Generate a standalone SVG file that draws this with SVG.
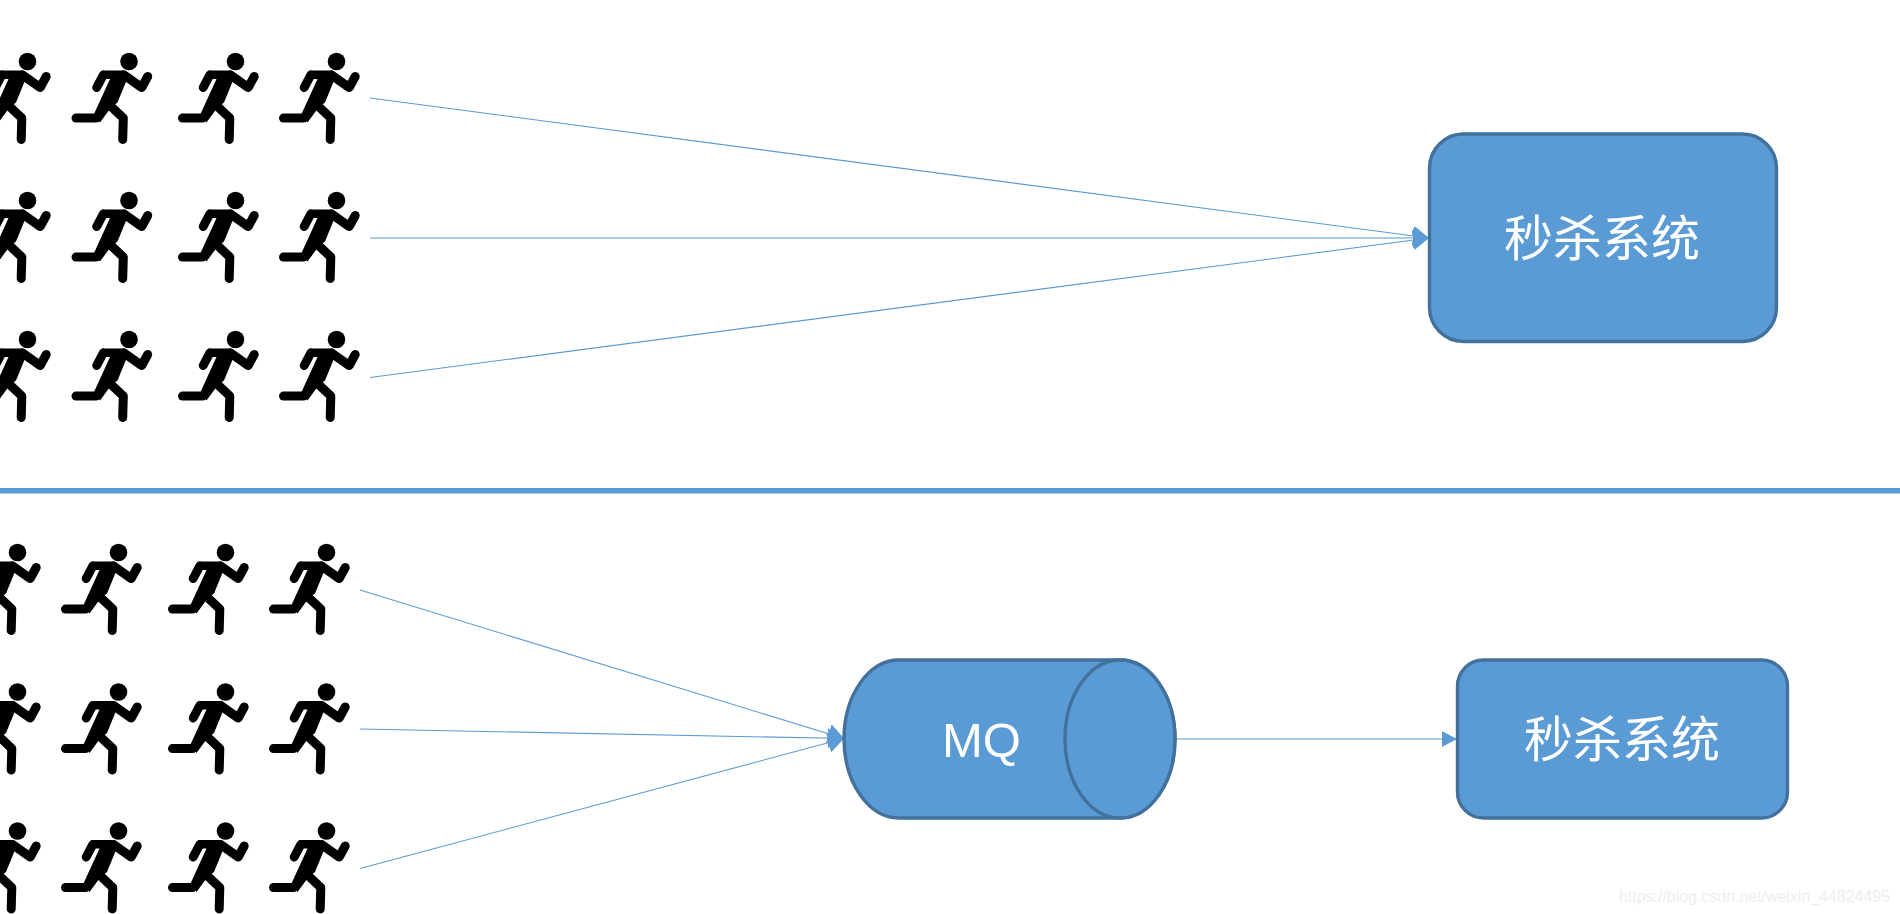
<svg xmlns="http://www.w3.org/2000/svg" xmlns:xlink="http://www.w3.org/1999/xlink" width="1900" height="914" viewBox="0 0 1900 914">
<style>
.box{fill:#5b9bd5;stroke:#41719c;stroke-width:3.4}
.lbl{fill:#fff;font-family:"Noto Sans CJK SC","Liberation Sans",sans-serif;font-size:49px;text-anchor:middle}
.mq{fill:#fff;font-family:"Liberation Sans",sans-serif;font-size:49px;text-anchor:middle}
.c{stroke:#5b9bd5;stroke-width:1.1;fill:none}
.wm{fill:#eeeeee;font-family:"Liberation Sans",sans-serif;font-size:16px}
.s{fill:none;stroke:#000;stroke-linecap:round;stroke-linejoin:round}
</style>
<defs>
<marker id="a" markerUnits="userSpaceOnUse" markerWidth="16" markerHeight="20" refX="16" refY="10" orient="auto"><path d="M0 0L16 10L0 20Z" fill="#5b9bd5"/></marker>
<marker id="b" markerUnits="userSpaceOnUse" markerWidth="15" markerHeight="16" refX="15" refY="8" orient="auto"><path d="M0 0L15 8L0 16Z" fill="#5b9bd5"/></marker>
<g id="r">
<circle cx="0" cy="0" r="8.8"/>
<path class="s" stroke-width="9" d="M-5 13.500L12.700 26L18.700 15"/>
<path class="s" stroke-width="9" d="M-25.700 13.500L-32.300 26"/>
<path d="M-27.300 9H-4L0 13L-11.500 41L-18 46L-29 61L-35 52.500L-19 17.600H-24Z" fill="#000"/>
<path class="s" stroke-width="9" d="M-53 56.600H-33"/>
<path class="s" stroke-width="9" d="M-19 44L-5.700 56.600L-6.300 78"/>
</g>
</defs>
<g id="connectors">
<path class="c" marker-end="url(#a)" d="M370 98L1429 238"/>
<path class="c" marker-end="url(#a)" d="M370 238H1429"/>
<path class="c" marker-end="url(#a)" d="M370 377.500L1429 238"/>
<path class="c" marker-end="url(#a)" d="M360 590L844 738.500"/>
<path class="c" marker-end="url(#a)" d="M360 729L844 738.500"/>
<path class="c" marker-end="url(#a)" d="M360 868.500L844 738.500"/>
<path class="c" marker-end="url(#b)" d="M1175 739H1457"/>
</g>
<rect id="divider" x="0" y="488" width="1900" height="5.500" fill="#5b9bd5"/>
<g id="runners-top">
<use xlink:href="#r" x="27.5" y="61.5"/><use xlink:href="#r" x="129" y="61.5"/><use xlink:href="#r" x="235.5" y="61.5"/><use xlink:href="#r" x="336.5" y="61.5"/>
<use xlink:href="#r" x="27.5" y="200.5"/><use xlink:href="#r" x="129" y="200.5"/><use xlink:href="#r" x="235.5" y="200.5"/><use xlink:href="#r" x="336.5" y="200.5"/>
<use xlink:href="#r" x="27.5" y="339.5"/><use xlink:href="#r" x="129" y="339.5"/><use xlink:href="#r" x="235.5" y="339.5"/><use xlink:href="#r" x="336.5" y="339.5"/>
</g>
<g id="runners-bottom">
<use xlink:href="#r" x="17.5" y="552.5"/><use xlink:href="#r" x="118.5" y="552.5"/><use xlink:href="#r" x="225.5" y="552.5"/><use xlink:href="#r" x="326.5" y="552.5"/>
<use xlink:href="#r" x="17.5" y="692"/><use xlink:href="#r" x="118.5" y="692"/><use xlink:href="#r" x="225.5" y="692"/><use xlink:href="#r" x="326.5" y="692"/>
<use xlink:href="#r" x="17.5" y="831"/><use xlink:href="#r" x="118.5" y="831"/><use xlink:href="#r" x="225.5" y="831"/><use xlink:href="#r" x="326.5" y="831"/>
</g>
<g id="system-top">
<rect class="box" x="1429.500" y="134" width="347" height="207.500" rx="34" ry="34"/>
<text class="lbl" x="1602" y="256">秒杀系统</text>
</g>
<g id="mq">
<path class="box" d="M899 660H1120A55 79 0 0 1 1120 818H899A55 79 0 0 1 899 660Z"/>
<ellipse class="box" cx="1120" cy="739" rx="55" ry="79"/>
<text class="mq" x="981.500" y="757">MQ</text>
</g>
<g id="system-bottom">
<rect class="box" x="1457.500" y="660" width="330" height="158" rx="26" ry="26"/>
<text class="lbl" x="1622" y="757">秒杀系统</text>
</g>
<text class="wm" x="1619" y="902" textLength="271" lengthAdjust="spacingAndGlyphs">https://blog.csdn.net/weixin_44824495</text>
</svg>
